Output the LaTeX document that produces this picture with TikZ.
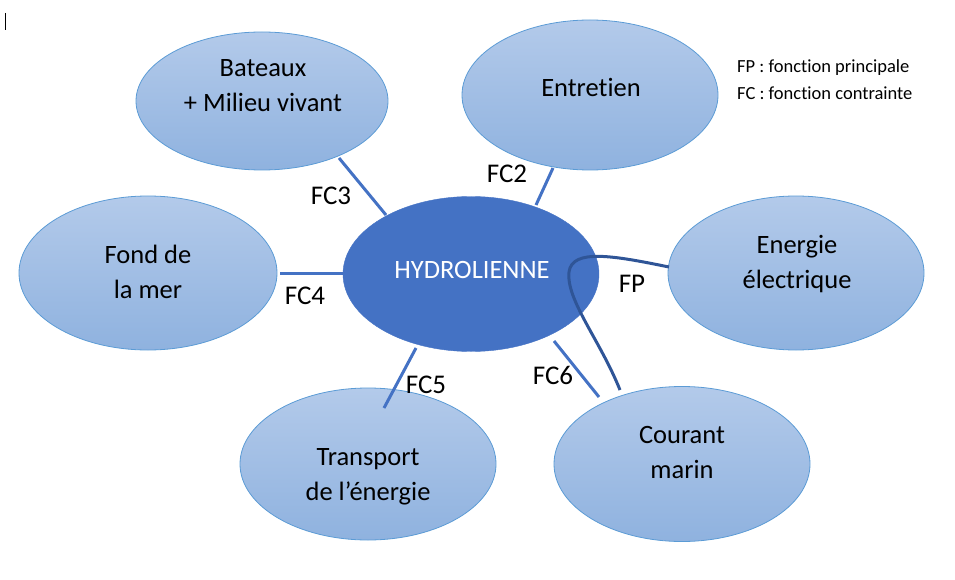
\documentclass[tikz,border=0pt]{standalone}
\usepackage{fontspec}
\setmainfont{Carlito}[RawFeature={-liga;-clig}]
\usetikzlibrary{shapes.geometric}
\definecolor{lblue}{HTML}{B3CAEA}
\definecolor{dblue}{HTML}{8FB2DF}
\definecolor{edgeb}{HTML}{5B9BD5}
\definecolor{mainb}{HTML}{4472C4}
\definecolor{fpb}{HTML}{2F5597}
\tikzset{
  bubble/.style={ellipse, draw=edgeb, line width=0.8pt, top color=lblue, bottom color=dblue,
    minimum width=256pt, minimum height=152pt, inner sep=0pt},
  btext/.style={align=center, inner sep=0pt, font=\fontsize{26.5}{35}\selectfont},
  hub/.style={ellipse, draw=mainb, fill=mainb, minimum width=256pt, minimum height=155pt,
    inner sep=0pt},
  link/.style={draw=mainb, line width=3pt},
  lab/.style={font=\fontsize{27}{30}\selectfont, inner sep=0pt},
  legend/.style={font=\fontsize{18.5}{24}\selectfont, inner sep=0pt, anchor=west}
}
\begin{document}
\begin{tikzpicture}[x=1pt,y=-1pt]
\useasboundingbox (0,0) rectangle (955,580);
\draw[line width=1pt] (5,13) -- (5,30);
\node[hub] (h) at (471,274) {};
\node[text=white, inner sep=0pt, font=\fontsize{26.5}{30}\selectfont] (ht) at (472,270) {HYDROLIENNE};
\node[bubble, minimum height=138pt, minimum width=252pt] (bat) at (262,101) {};
\node[btext] (batt) at (263,86) {Bateaux\\ + Milieu vivant};
\node[bubble, minimum height=150pt] (ent) at (590,95) {};
\node[btext] (entt) at (591,87) {Entretien};
\node[bubble, minimum height=154pt] (ene) at (796,273) {};
\node[btext] (enet) at (797,264) {Energie\\ électrique};
\node[bubble, minimum height=154pt, minimum width=258pt] (fond) at (148,273) {};
\node[btext] (fondt) at (148,272) {Fond de\\ la mer};
\node[bubble] (tra) at (368,464) {};
\node[btext] (trat) at (368,477) {Transport\\ de l’énergie};
\node[bubble, minimum height=155pt] (cou) at (682,464) {};
\node[btext] (cout) at (682,452) {Courant\\ marin};
% connector ends
\coordinate (c3a) at (339,158); \coordinate (c3b) at (386,215);
\coordinate (c2a) at (553,168); \coordinate (c2b) at (536,205);
\coordinate (c4a) at (280,273); \coordinate (c4b) at (343,273);
\coordinate (c5a) at (416,348); \coordinate (c5b) at (384,408);
\coordinate (c6a) at (554,341); \coordinate (c6b) at (599,397);
\coordinate (fpa) at (669,267); \coordinate (fpb) at (620,390);
\draw[link] (c3a) -- (c3b);
\draw[link] (c2a) -- (c2b);
\draw[link] (c4a) -- (c4b);
\draw[link] (c5a) -- (c5b);
\draw[link] (c6a) -- (c6b);
\draw[draw=fpb, line width=3pt] (fpa) .. controls (615,256) and (572,248) .. (569,272)
  .. controls (566,300) and (600,340) .. (fpb);
\node[lab] (l3) at (331,196) {FC3};
\node[lab] (l2) at (507,174) {FC2};
\node[lab] (l4) at (305,296) {FC4};
\node[lab] (l5) at (426,385) {FC5};
\node[lab] (l6) at (553,375) {FC6};
\node[lab] (lp) at (632,284) {FP};
\node[legend] (g1) at (737,68) {FP : fonction principale};
\node[legend] (g2) at (737,93) {FC : fonction contrainte};
\end{tikzpicture}
\end{document}
